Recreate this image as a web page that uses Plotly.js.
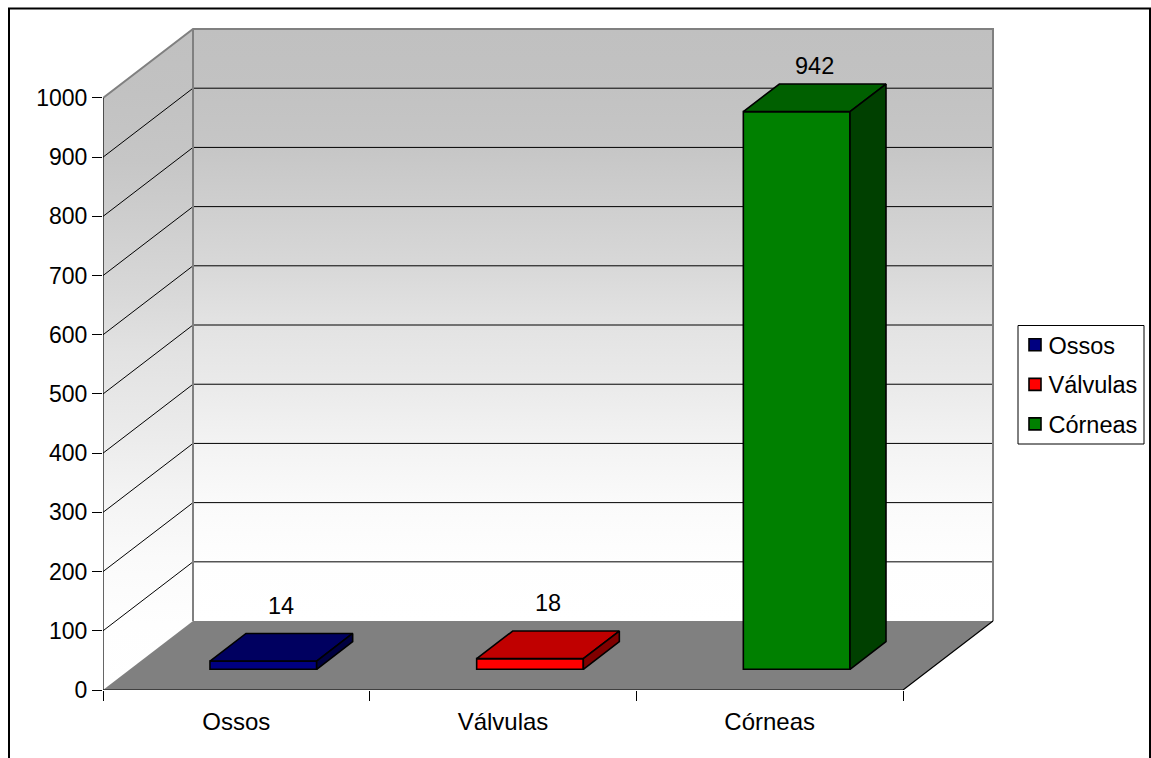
<!DOCTYPE html>
<html>
<head>
<meta charset="utf-8">
<script src="https://cdn.plot.ly/plotly-3.0.1.min.js"></script>
<style>html,body{margin:0;padding:0;background:#fff;overflow:hidden}</style>
</head>
<body>
<div id="chart" style="width:1151px;height:758px"></div>
<script>
// ---- data ----
const categories = ['Ossos', 'Válvulas', 'Córneas'];
const values = [14, 18, 942];
const yTicks = [0, 100, 200, 300, 400, 500, 600, 700, 800, 900, 1000];

// ---- styles ----
const faceColors = ['#000080', '#ff0000', '#008000'];
const topColors = ['#000060', '#c00000', '#006000'];
const sideColors = ['#000040', '#800000', '#004000'];
const labelLift = [47, 47, 30];
const FONT = 'Liberation Sans, Arial, sans-serif';
const FS = 23.5;
const W = 1151, H = 758;
const margin = {l: 103, r: 156, t: 27, b: 68, autoexpand: false};

// pseudo-3D projection, expressed in axis units
const dx = 0.3375;      // depth shift along x (category units)
const dy = 116.5;       // depth shift along y (value units)
const xMax = categories.length;
const yMax = 1000;
const zFront = 0.3, zDepth = 0.4, barInset = 0.3, barWidth = 0.4;
// small padding past the walls so that their border lines are not clipped
const xRange = [0, xMax + dx + 0.0075], yRange = [0, yMax + dy + 3.38];

const GREY = '#808080';
const wallScale = [[0, '#ffffff'], [0.1, '#fefefe'], [0.2, '#fafafa'], [0.3, '#f3f3f3'], [0.4, '#eaeaea'],
  [0.51, '#e2e2e2'], [0.6, '#d8d8d8'], [0.7, '#cfcfcf'], [0.8, '#c6c6c6'], [0.9, '#c2c2c2'], [1, '#c0c0c0']];
const traces = [];

// walls and floor
traces.push({x: [0, dx, dx, 0, 0], y: [0, dy, yMax + dy, yMax, 0], mode: 'lines', fill: 'toself',
  fillgradient: {type: 'vertical', start: 0, stop: yMax + dy, colorscale: wallScale},
  line: {width: 0}, showlegend: false, hoverinfo: 'skip'});
traces.push({x: [dx, xMax + dx, xMax + dx, dx, dx], y: [dy, dy, yMax + dy, yMax + dy, dy], mode: 'lines', fill: 'toself',
  fillgradient: {type: 'vertical', start: dy, stop: yMax + dy, colorscale: wallScale},
  line: {width: 0}, showlegend: false, hoverinfo: 'skip'});
traces.push({x: [0, xMax, xMax + dx, dx, 0], y: [0, 0, dy, dy, 0], mode: 'lines', fill: 'toself',
  fillcolor: GREY, line: {width: 0}, showlegend: false, hoverinfo: 'skip'});

// gridlines on left and back walls
const gx = [], gy = [];
yTicks.filter(v => v > 0 && v < yMax).forEach(v => {
  gx.push(0, dx, xMax + dx, null);
  gy.push(v, v + dy, v + dy, null);
});
traces.push({x: gx, y: gy, mode: 'lines', line: {color: '#000', width: 1}, showlegend: false, hoverinfo: 'skip'});

// wall border in grey
traces.push({x: [0, dx, xMax + dx, xMax + dx, null, dx, dx], y: [yMax, yMax + dy, yMax + dy, dy, null, yMax + dy, dy],
  mode: 'lines', line: {color: GREY, width: 2}, showlegend: false, hoverinfo: 'skip', cliponaxis: false});
// axis lines and floor edges in black
traces.push({x: [0, 0, xMax, xMax + dx], y: [yMax, 0, 0, dy], mode: 'lines',
  line: {color: '#000', width: 1.2}, showlegend: false, hoverinfo: 'skip', cliponaxis: false});

// bars: front faces are real bars, top and side faces project from the same value
const annotations = [];
categories.forEach((name, i) => {
  const v = values[i];
  const base = zFront * dy;
  const x0 = i + barInset + zFront * dx, x1 = x0 + barWidth;
  const d = zDepth * dx, dd = zDepth * dy;
  const top = base + v;
  traces.push({type: 'bar', name: name, x: [x0 + barWidth / 2], y: [v], base: [base], width: [barWidth],
    marker: {color: faceColors[i], line: {color: '#000', width: 1.6}},
    xaxis: 'x2', yaxis: 'y2', legendgroup: name, hovertemplate: name + ': %{y}<extra></extra>'});
  traces.push({x: [x0, x1, x1 + d, x0 + d, x0], y: [top, top, top + dd, top + dd, top], mode: 'lines', fill: 'toself',
    fillcolor: topColors[i], line: {color: '#000', width: 1.6}, xaxis: 'x2', yaxis: 'y2',
    showlegend: false, hoverinfo: 'skip'});
  traces.push({x: [x1, x1 + d, x1 + d, x1, x1], y: [base, base + dd, top + dd, top, base], mode: 'lines', fill: 'toself',
    fillcolor: sideColors[i], line: {color: '#000', width: 1.6}, xaxis: 'x2', yaxis: 'y2',
    showlegend: false, hoverinfo: 'skip'});
  annotations.push({x: x0 + barWidth / 2 + d / 2, y: top + dd + labelLift[i], xref: 'x', yref: 'y', text: String(v),
    showarrow: false, xanchor: 'center', yanchor: 'middle', font: {family: FONT, size: FS, color: '#000'}});
});

const px = p => (p - margin.l) / (W - margin.l - margin.r);
const py = p => (H - margin.b - p) / (H - margin.t - margin.b);

const layout = {
  width: W, height: H, margin: margin, autosize: false,
  paper_bgcolor: '#fff', plot_bgcolor: 'rgba(0,0,0,0)',
  font: {family: FONT, size: FS, color: '#000'},
  showlegend: true, barmode: 'overlay',
  xaxis: {range: xRange, type: 'linear', fixedrange: true, showgrid: false, zeroline: false, showline: false, automargin: false,
    tickfont: {family: FONT, size: 24, color: '#000'},
    tickmode: 'array', tickvals: categories.map((c, i) => i + 0.5), ticktext: categories,
    ticks: 'outside', ticklen: 10, tickcolor: 'rgba(0,0,0,0)',
    minor: {tickmode: 'array', tickvals: [0, 1, 2, 3], ticks: 'outside', ticklen: 10, tickwidth: 1, tickcolor: '#000', showgrid: false}},
  yaxis: {range: yRange, type: 'linear', fixedrange: true, showgrid: false, zeroline: false, showline: false, automargin: false,
    tickfont: {family: FONT, size: 23, color: '#000'},
    tickmode: 'array', tickvals: yTicks, ticks: 'outside', ticklen: 10, tickwidth: 1, tickcolor: '#000'},
  xaxis2: {range: xRange, type: 'linear', overlaying: 'x', anchor: 'y2', visible: false, fixedrange: true},
  yaxis2: {range: yRange, type: 'linear', overlaying: 'y', anchor: 'x2', visible: false, fixedrange: true},
  legend: {x: px(1015), y: py(323), xref: 'paper', yref: 'paper', xanchor: 'left', yanchor: 'top',
    bgcolor: 'rgba(0,0,0,0)', borderwidth: 0, tracegroupgap: 6, traceorder: 'grouped',
    entrywidth: 77, entrywidthmode: 'pixels', font: {family: FONT, size: FS, color: '#000'}, itemclick: false, itemdoubleclick: false},
  annotations: annotations,
  shapes: [
    {type: 'rect', xref: 'paper', yref: 'paper', layer: 'below',
      x0: px(9), x1: px(1150), y0: py(8.5), y1: py(H + 10), line: {color: '#000', width: 2}, fillcolor: 'rgba(0,0,0,0)'},
    {type: 'rect', xref: 'paper', yref: 'paper', layer: 'above',
      x0: px(1018), x1: px(1144), y0: py(325.5), y1: py(444), line: {color: '#000', width: 1}, fillcolor: '#fff'}
  ]
};

Plotly.newPlot('chart', traces, layout, {staticPlot: true, displayModeBar: false}).then(gd => {
  // the reference sets its legend labels closer to the swatches than the library default
  gd.querySelectorAll('.legend .legendtext').forEach(t => t.setAttribute('x', 33.5));
});
</script>
</body>
</html>
